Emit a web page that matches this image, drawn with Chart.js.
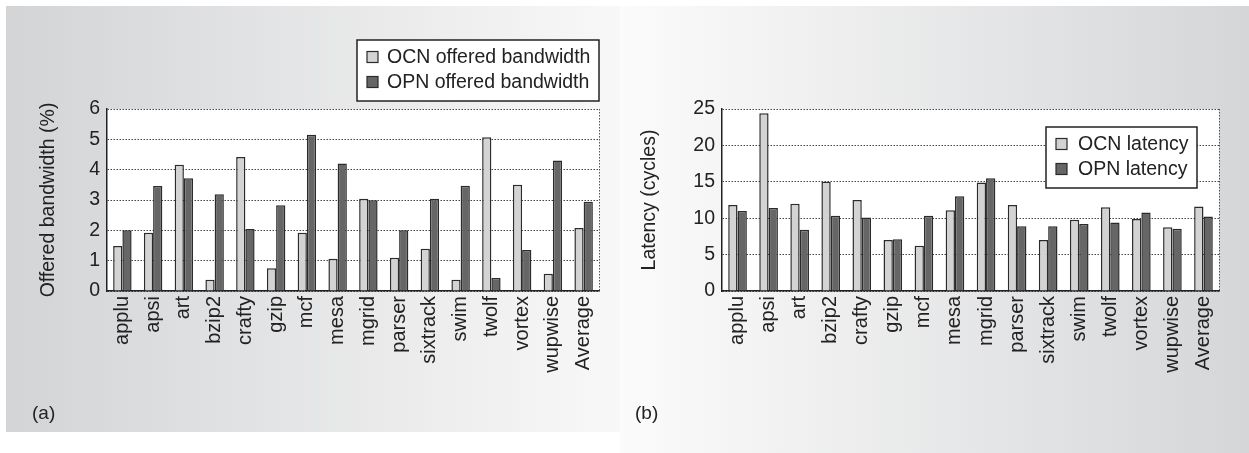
<!DOCTYPE html>
<html><head><meta charset="utf-8">
<script src="https://cdn.jsdelivr.net/npm/chart.js@4"></script>
<style>
html,body{margin:0;padding:0;background:#fff;width:1249px;height:453px;overflow:hidden;font-family:"Liberation Sans",Arial,sans-serif;}
#pl{position:absolute;left:6px;top:6px;width:614px;height:426px;background:linear-gradient(to right,#d3d4d6,#f8f8f8);}
#pr{position:absolute;left:620px;top:6px;width:629px;height:447px;background:linear-gradient(to right,#fbfbfb,#d5d6d8);}
.cv{position:absolute;top:0;}
.lab{position:absolute;top:402px;font-size:19px;color:#222;}
</style></head>
<body>
<div id="pl"></div><div id="pr"></div>
<div class="cv" style="left:0;width:620px;height:453px"><canvas id="c1"></canvas></div>
<div class="cv" style="left:620px;width:629px;height:453px"><canvas id="c2"></canvas></div>
<div class="lab" style="left:32px">(a)</div>
<div class="lab" style="left:635px">(b)</div>
<script>
const categories = ["applu","apsi","art","bzip2","crafty","gzip","mcf","mesa","mgrid","parser","sixtrack","swim","twolf","vortex","wupwise","Average"];
const ocnBandwidth = [1.48,1.92,4.16,0.37,4.42,0.75,1.92,1.06,3.04,1.10,1.39,0.37,5.07,3.50,0.57,2.08];
const opnBandwidth = [2.00,3.46,3.72,3.19,2.04,2.83,5.15,4.20,2.99,2.00,3.04,3.47,0.43,1.35,4.30,2.94];
const ocnLatency = [11.8,24.4,12.0,15.0,12.5,7.0,6.2,11.1,14.9,11.8,7.0,9.8,11.5,9.9,8.75,11.6];
const opnLatency = [11.0,11.4,8.4,10.35,10.1,7.1,10.35,13.0,15.5,8.9,8.9,9.2,9.4,10.8,8.55,10.25];
const bwTicks = [0,1,2,3,4,5,6];
const latTicks = [0,5,10,15,20,25];

const FONT = "'Liberation Sans', Arial, sans-serif";
const OCN_COLOR = "#d3d3d3", OPN_COLOR = "#666666", EDGE = "#2b2b2b";

const boxLegend = {
  id: "boxLegend",
  afterDraw(chart, args, opts) {
    const ctx = chart.ctx, a = chart.chartArea;
    const w = opts.w, h = opts.h;
    let x, y;
    if (opts.mode === "above") { x = a.right - w; y = a.top - opts.gap - h; }
    else { x = a.right - opts.right - w; y = a.top + opts.top; }
    ctx.save();
    ctx.fillStyle = "#fff"; ctx.fillRect(x, y, w, h);
    ctx.strokeStyle = "#222"; ctx.lineWidth = 1.5; ctx.strokeRect(x, y, w, h);
    ctx.font = "19.5px " + FONT; ctx.textBaseline = "middle";
    chart.data.datasets.forEach((ds, i) => {
      const cy = y + opts.row0 + i * opts.rowH;
      ctx.fillStyle = ds.backgroundColor; ctx.fillRect(x + 10, cy - 5.5, 11, 11);
      ctx.strokeStyle = EDGE; ctx.lineWidth = 1.2; ctx.strokeRect(x + 10, cy - 5.5, 11, 11);
      ctx.fillStyle = "#222"; ctx.fillText(ds.label, x + opts.tx, cy + 1);
    });
    ctx.restore();
  }
};
const rightBorder = {
  id: "rightBorder",
  afterDatasetsDraw(chart) {
    const ctx = chart.ctx, a = chart.chartArea;
    ctx.save(); ctx.strokeStyle = "#555"; ctx.lineWidth = 1; ctx.setLineDash([1.5, 1.5]);
    ctx.beginPath(); ctx.moveTo(a.right + 0.5, a.top); ctx.lineTo(a.right + 0.5, a.bottom); ctx.stroke();
    ctx.restore();
  }
};
const whiteArea = {
  id: "whiteArea",
  beforeDraw(chart) {
    const ctx = chart.ctx, a = chart.chartArea;
    ctx.save(); ctx.fillStyle = "#fff"; ctx.fillRect(a.left, a.top, a.right - a.left, a.bottom - a.top); ctx.restore();
  }
};

function makeChart(id, labels, d1, d2, ticks, max, title, yw, titlePad, padRight, legendOpts) {
  return new Chart(document.getElementById(id), {
    type: "bar",
    data: {
      labels: labels,
      datasets: [
        { label: d1.label, data: d1.data, backgroundColor: OCN_COLOR, borderColor: EDGE, borderWidth: 1.5, borderSkipped: "bottom" },
        { label: d2.label, data: d2.data, backgroundColor: OPN_COLOR, borderColor: EDGE, borderWidth: 1.5, borderSkipped: "bottom" }
      ]
    },
    options: {
      responsive: true, maintainAspectRatio: false, animation: false,
      devicePixelRatio: 1,
      layout: { padding: { top: 109, right: padRight, bottom: 0, left: 0 } },
      datasets: { bar: { categoryPercentage: 0.6, barPercentage: 1.0 } },
      plugins: { legend: { display: false }, tooltip: { enabled: false }, boxLegend: legendOpts },
      scales: {
        x: {
          grid: { display: false, drawTicks: false },
          border: { display: true, color: "#222", width: 1.5 },
          ticks: { color: "#222", font: { family: FONT, size: 20 }, minRotation: 90, maxRotation: 90, padding: 5, autoSkip: false },
          afterFit(s) { s.height = 162; }
        },
        y: {
          min: 0, max: max,
          afterBuildTicks(s) { s.ticks = ticks.map(v => ({ value: v })); },
          grid: { color: "#444", lineWidth: 1, drawTicks: false },
          border: { display: true, color: "#222", width: 1.5, dash: [1.5, 1.5] },
          ticks: { color: "#222", font: { family: FONT, size: 19.5 }, padding: 7 },
          title: { display: true, text: title, color: "#222", font: { family: FONT, size: 19.5 }, padding: { top: titlePad, bottom: 0 } },
          afterFit(s) { s.width = yw; }
        }
      }
    },
    plugins: [whiteArea, boxLegend, rightBorder]
  });
}

const c1 = makeChart("c1", categories,
  { label: "OCN offered bandwidth", data: ocnBandwidth },
  { label: "OPN offered bandwidth", data: opnBandwidth },
  bwTicks, 6, "Offered bandwidth (%)", 107, 37, 21,
  { mode: "above", w: 242, h: 61, gap: 8, row0: 17, rowH: 25, tx: 30 });
const c2 = makeChart("c2", categories,
  { label: "OCN latency", data: ocnLatency },
  { label: "OPN latency", data: opnLatency },
  latTicks, 25, "Latency (cycles)", 102, 18, 30,
  { mode: "inside", w: 151, h: 61, right: 22, top: 18, row0: 17, rowH: 25, tx: 32 });
</script>
</body></html>
